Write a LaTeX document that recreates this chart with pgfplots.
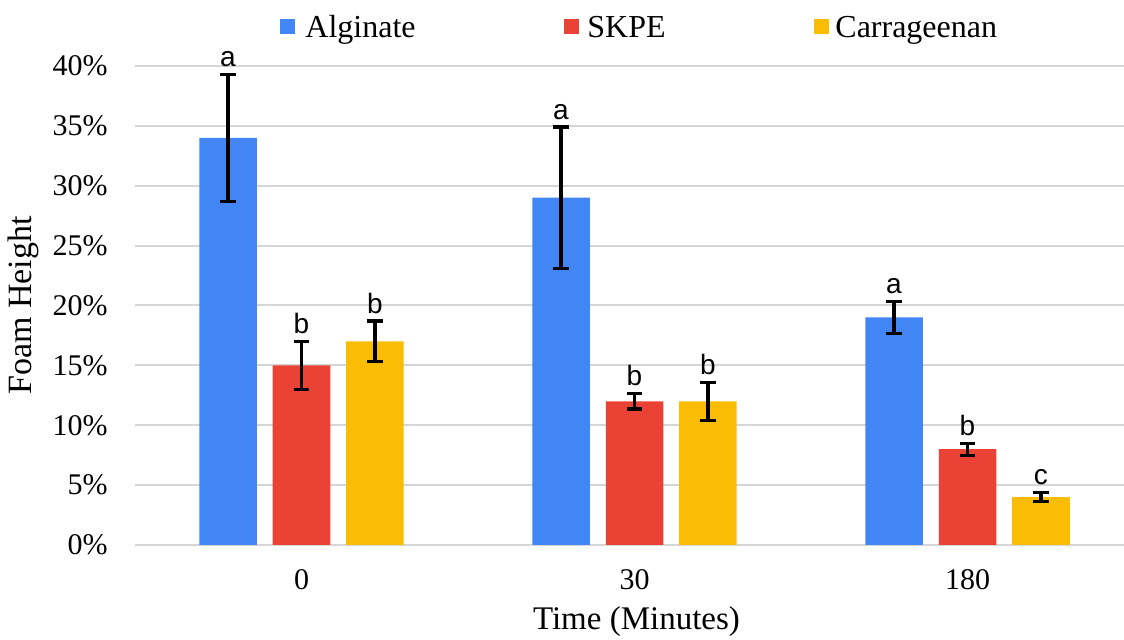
\documentclass[border=0pt]{standalone}
\usepackage{pgfplots}
\pgfplotsset{compat=1.18}
\usepackage{fontspec}
\setmainfont{Liberation Serif}
\newfontfamily\arial{Liberation Sans}
\definecolor{algblue}{HTML}{4285F4}
\definecolor{skred}{HTML}{EA4335}
\definecolor{caryel}{HTML}{FBBC04}
\definecolor{gridgray}{HTML}{D6D6D6}
\begin{document}
\begin{tikzpicture}
\useasboundingbox (-67.5pt,-47.5pt) rectangle (494.5pt,272.5pt);
\begin{axis}[
  at={(0,0)}, anchor=south west,
  scale only axis, width=499.5pt, height=239.5pt,
  xmin=-0.5, xmax=2.5, ymin=0, ymax=40,
  clip=false,
  axis line style={draw=none},
  major tick length=0pt,
  xtick={0,1,2}, xticklabels={0,30,180},
  ytick={0,5,...,40},
  yticklabel={\pgfmathprintnumber{\tick}\%},
  /pgf/number format/assume math mode=true,
  ymajorgrids, major grid style={line width=1pt, color=gridgray},
  xticklabel style={font=\fontsize{15}{18}\selectfont, anchor=base, inner sep=0pt, yshift=-22.5pt},
  yticklabel style={font=\fontsize{15}{18}\selectfont, anchor=east, inner sep=0pt, xshift=-13.5pt},
  xlabel={Time (Minutes)},
  ylabel={Foam Height},
  xlabel style={font=\fontsize{16.5}{20}\selectfont, at={(axis description cs:0.502,0)}, anchor=base, inner sep=0pt, yshift=-42.5pt},
  ylabel style={font=\fontsize{17}{20}\selectfont, at={(axis description cs:-0.1121,0.5)}, anchor=center, inner sep=0pt},
  error bars/error bar style={line width=1.6pt, black},
  error bars/error mark options={rotate=90, mark size=3.8pt, line width=1.6pt, black},
  nodes near coords style={font=\arial\fontsize{14}{16}\selectfont, anchor=south, inner sep=0pt, yshift=3.5pt, black},
]
% Alginate
\addplot[ybar, bar width=28.75pt, bar shift=0pt, fill=algblue, draw=none,
  error bars/.cd, y dir=both, y explicit]
  coordinates {(-0.2207,34) +- (0,5.3) (0.7793,29) +- (0,5.9) (1.7793,19) +- (0,1.35)};
% SKPE
\addplot[ybar, bar width=28.75pt, bar shift=0pt, fill=skred, draw=none,
  error bars/.cd, y dir=both, y explicit]
  coordinates {(0,15) +- (0,2.0) (1,12) +- (0,0.65) (2,8) +- (0,0.5)};
% Carrageenan
\addplot[ybar, bar width=28.75pt, bar shift=0pt, fill=caryel, draw=none,
  error bars/.cd, y dir=both, y explicit]
  coordinates {(0.2207,17) +- (0,1.7) (1.2207,12) +- (0,1.6) (2.2207,4) +- (0,0.4)};
% significance letters (placed above the error bars)
\addplot[draw=none, forget plot, nodes near coords, point meta=explicit symbolic]
  coordinates {(-0.2207,39.3)[a] (0.7793,34.9)[a] (1.7793,20.35)[a]};
\addplot[draw=none, forget plot, nodes near coords, point meta=explicit symbolic]
  coordinates {(0,17.0)[b] (1,12.65)[b] (2,8.5)[b]};
\addplot[draw=none, forget plot, nodes near coords, point meta=explicit symbolic]
  coordinates {(0.2207,18.7)[b] (1.2207,13.6)[b] (2.2207,4.4)[c]};
\end{axis}
% legend
\fill[algblue] (72.25pt,255.5pt) rectangle +(7.5pt,7.5pt);
\node[anchor=base west, inner sep=0pt, font=\fontsize{16}{19}\selectfont] at (85pt,253.5pt) {Alginate};
\fill[skred] (214.5pt,255.5pt) rectangle +(7.5pt,7.5pt);
\node[anchor=base west, inner sep=0pt, font=\fontsize{16}{19}\selectfont] at (226pt,253.5pt) {SKPE};
\fill[caryel] (339.25pt,255.5pt) rectangle +(7.5pt,7.5pt);
\node[anchor=base west, inner sep=0pt, font=\fontsize{16}{19}\selectfont] at (350pt,253.5pt) {Carrageenan};
\end{tikzpicture}
\end{document}
